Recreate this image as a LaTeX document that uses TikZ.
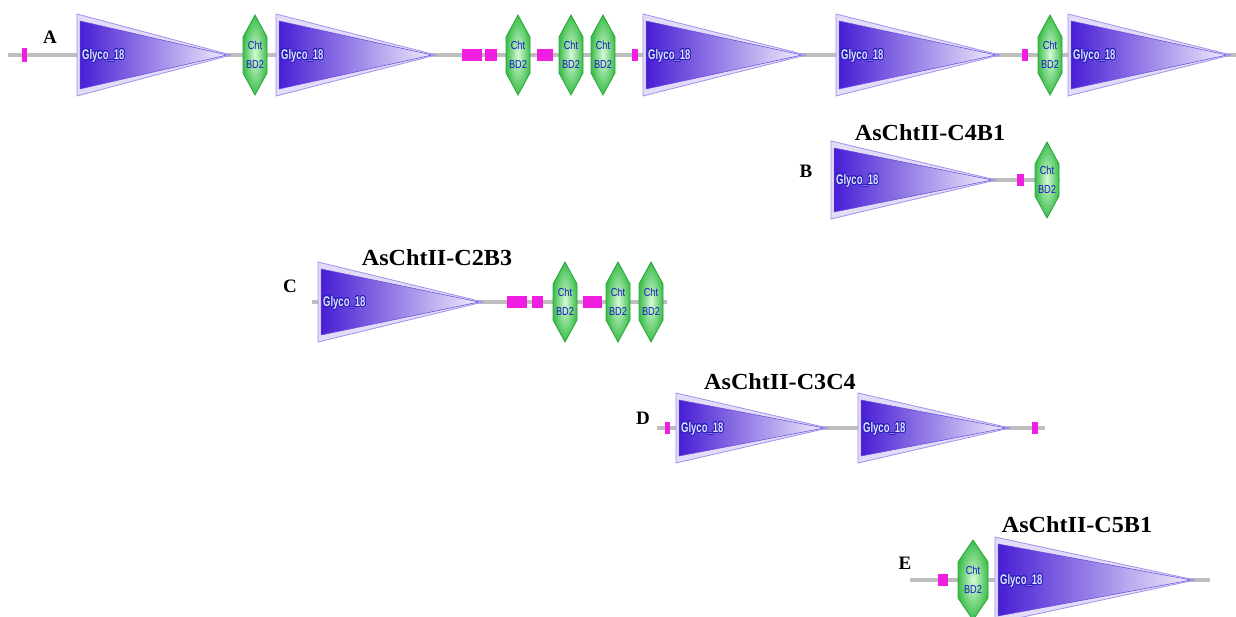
\documentclass[tikz,border=0pt]{standalone}
\usepackage{fontspec}
\setmainfont{Liberation Serif}
\newfontfamily\arialf{Liberation Sans}
\usepackage[copies]{contour}
\contourlength{1pt}
\definecolor{lineGray}{RGB}{190,190,190}
\definecolor{pinkM}{RGB}{240,30,225}
\definecolor{triDark}{RGB}{72,30,212}
\definecolor{triLight}{RGB}{240,236,252}
\definecolor{triPale}{RGB}{226,220,248}
\definecolor{triEdge}{RGB}{160,145,236}
\definecolor{triEdgeB}{RGB}{100,70,220}
\definecolor{cbdLight}{RGB}{215,250,215}
\definecolor{cbdDark}{RGB}{60,190,75}
\definecolor{cbdEdge}{RGB}{40,165,60}
\definecolor{cbdBlue}{RGB}{25,25,200}
\definecolor{glyBlue}{RGB}{40,30,190}
\definecolor{glyText}{RGB}{225,225,255}
\tikzset{
  backbone/.style={line width=4pt, draw=lineGray},
  motif/.style={fill=pinkM, draw=none},
  outerTri/.style={fill=triPale, draw=triEdge, line width=0.8pt},
  innerTri/.style={left color=triDark, right color=triLight, draw=triEdgeB, line width=0.5pt},
  hexfill/.style={inner color=cbdLight, outer color=cbdDark, draw=cbdEdge, line width=0.8pt},
  glytext/.style={text=glyText, font=\arialf\bfseries\fontsize{14}{14}\selectfont, inner sep=0pt, anchor=west, xscale=0.68},
  cbdtext/.style={text=cbdBlue, font=\arialf\fontsize{11.5}{11.5}\selectfont, inner sep=0pt, xscale=0.8},
  titletext/.style={font=\bfseries\fontsize{23}{23}\selectfont, inner sep=0pt, xscale=1.05},
  rowlabel/.style={font=\bfseries\fontsize{19}{19}\selectfont, inner sep=0pt}
}
% glyco domain: name, x left, y centre, half height, x apex
\newcommand\glyco[5]{%
  \draw[outerTri] (#2-2,#3-#4-1) -- (#5+3,#3) -- (#2-2,#3+#4+1) -- cycle;
  \shade[innerTri] (#2+1,#3-#4+6) -- (#5-1,#3) -- (#2+1,#3+#4-6) -- cycle;
  \node[glytext] (#1) at (#2+3,#3+1) {\contour{glyBlue}{Glyco\_18}};
}
% chitin binding domain: name, x centre, y centre, half height, half width
\newcommand\cbd[5]{%
  \shade[hexfill] (#2,#3-#4) -- (#2+#5,#3-#4+22) -- (#2+#5,#3+#4-22) -- (#2,#3+#4)
     -- (#2-#5,#3+#4-22) -- (#2-#5,#3-#4+22) -- cycle;
  \node[cbdtext] (#1a) at (#2,#3-10) {Cht};
  \node[cbdtext] (#1b) at (#2,#3+9) {BD2};
}
% pink motif: x1, x2, y centre, half height
\newcommand\pinkbox[4]{\fill[motif] (#1,#3-#4) rectangle (#2,#3+#4);}
\begin{document}
\begin{tikzpicture}[x=1pt,y=-1pt]
\clip (0,0) rectangle (1236,617);
\fill[white] (0,0) rectangle (1236,617);
% ---------------- Row A ----------------
\node[rowlabel] (labA) at (50,37) {A};
\coordinate (a0) at (8,55);
\coordinate (a1) at (1236,55);
\draw[backbone] (a0) -- (a1);
\pinkbox{22}{27}{55}{7}
\glyco{gA1}{79}{55}{40}{228}
\cbd{cA1}{255}{55}{40}{12}
\glyco{gA2}{278}{55}{40}{433}
\pinkbox{462}{482}{55}{6}
\pinkbox{485}{497}{55}{6}
\cbd{cA2}{518}{55}{40}{12}
\pinkbox{537}{553}{55}{6}
\cbd{cA3}{571}{55}{40}{12}
\cbd{cA4}{603}{55}{40}{12}
\pinkbox{632}{638}{55}{6}
\glyco{gA3}{645}{55}{40}{803}
\glyco{gA4}{838}{55}{40}{997}
\pinkbox{1022}{1028}{55}{6}
\cbd{cA5}{1050}{55}{40}{12}
\glyco{gA5}{1070}{55}{40}{1228}
% ---------------- Row B ----------------
\node[titletext] (tB) at (930,133) {AsChtII-C4B1};
\node[rowlabel] (labB) at (806,171) {B};
\coordinate (b0) at (832,180);
\coordinate (b1) at (1060,180);
\draw[backbone] (b0) -- (b1);
\glyco{gB1}{833}{180}{38}{993}
\pinkbox{1017}{1024}{180}{6}
\cbd{cB1}{1047}{180}{38}{12}
% ---------------- Row C ----------------
\node[titletext] (tC) at (437,258) {AsChtII-C2B3};
\node[rowlabel] (labC) at (290,286) {C};
\coordinate (c0) at (312,302);
\coordinate (c1) at (667,302);
\draw[backbone] (c0) -- (c1);
\glyco{gC1}{320}{302}{39}{480}
\pinkbox{507}{527}{302}{6}
\pinkbox{532}{543}{302}{6}
\cbd{cC1}{565}{302}{40}{12}
\pinkbox{583}{602}{302}{6}
\cbd{cC2}{618}{302}{40}{12}
\cbd{cC3}{651}{302}{40}{12}
% ---------------- Row D ----------------
\node[titletext] (tD) at (780,382) {AsChtII-C3C4};
\node[rowlabel] (labD) at (643,418) {D};
\coordinate (d0) at (657,428);
\coordinate (d1) at (1045,428);
\draw[backbone] (d0) -- (d1);
\pinkbox{665}{670}{428}{6}
\glyco{gD1}{678}{428}{34}{825}
\glyco{gD2}{860}{428}{34}{1007}
\pinkbox{1032}{1038}{428}{6}
% ---------------- Row E ----------------
\node[titletext] (tE) at (1077,525) {AsChtII-C5B1};
\node[rowlabel] (labE) at (905,563) {E};
\coordinate (e0) at (910,580);
\coordinate (e1) at (1210,580);
\draw[backbone] (e0) -- (e1);
\pinkbox{938}{948}{580}{6}
\cbd{cE1}{973}{580}{40}{15}
\glyco{gE1}{997}{580}{42}{1192}
\end{tikzpicture}
\end{document}
